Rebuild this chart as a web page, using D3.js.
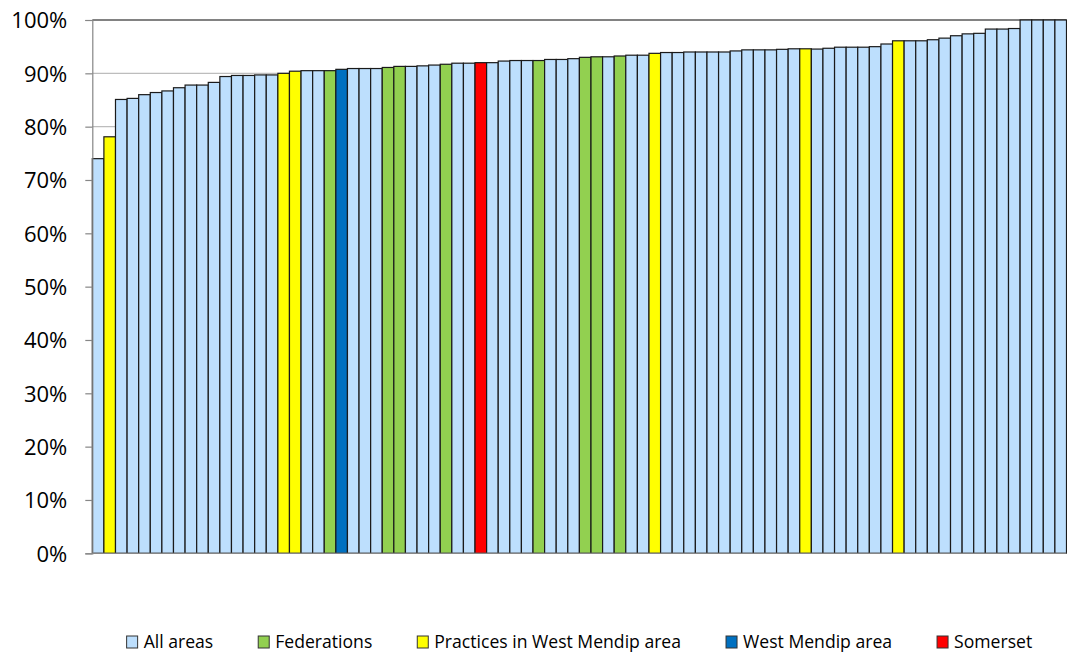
<!DOCTYPE html>
<html>
<head>
<meta charset="utf-8">
<script src="https://cdn.jsdelivr.net/npm/d3@7"></script>
<style>
  body { margin: 0; background: #fff; }
  svg text { font-family: "Open Sans", "Noto Sans", sans-serif; fill: #000; }
</style>
</head>
<body>
<div id="chart"></div>
<script>
const width = 1067
const height = 657

// bar values (%), sorted as in the chart
const values = [
  74.0, 78.1, 85.1, 85.3, 86.0, 86.4, 86.7, 87.3, 87.8, 87.8,
  88.3, 89.4, 89.6, 89.6, 89.7, 89.7, 90.0, 90.4, 90.5, 90.5,
  90.5, 90.75, 90.9, 90.9, 90.9, 91.1, 91.3, 91.3, 91.4, 91.55,
  91.7, 91.9, 91.9, 92.0, 92.0, 92.3, 92.4, 92.4, 92.4, 92.6,
  92.6, 92.75, 93.0, 93.1, 93.1, 93.25, 93.4, 93.4, 93.75, 93.9,
  93.9, 94.0, 94.0, 94.0, 94.0, 94.2, 94.4, 94.4, 94.4, 94.5,
  94.6, 94.6, 94.55, 94.7, 94.9, 94.9, 94.9, 95.0, 95.5, 96.1,
  96.1, 96.1, 96.3, 96.6, 97.05, 97.4, 97.5, 98.3, 98.3, 98.4,
  100, 100, 100, 100
]

// group of each bar: A = All areas, F = Federations, P = Practices in West Mendip area,
// W = West Mendip area, S = Somerset
const groups = [
  "A","P","A","A","A","A","A","A","A","A",
  "A","A","A","A","A","A","P","P","A","A",
  "F","W","A","A","A","F","F","A","A","A",
  "F","A","A","S","A","A","A","A","F","A",
  "A","A","F","F","A","F","A","A","P","A",
  "A","A","A","A","A","A","A","A","A","A",
  "A","P","A","A","A","A","A","A","A","P",
  "A","A","A","A","A","A","A","A","A","A",
  "A","A","A","A"
]

const legendKeys = ["A", "F", "P", "W", "S"]
const legendLabels = ["All areas", "Federations", "Practices in West Mendip area", "West Mendip area", "Somerset"]
const legendColors = ["#BDDFFD", "#92D050", "#FFFF00", "#0070C0", "#FF0000"]

const yTicks = [0, 10, 20, 30, 40, 50, 60, 70, 80, 90, 100]

const plot = { left: 92.3, right: 1066.5, top: 20, bottom: 553.3 }

const svg = d3.select("#chart").append("svg")
    .attr("width", width)
    .attr("height", height)

const color = d3.scaleOrdinal().domain(legendKeys).range(legendColors)

const x = d3.scaleBand()
    .domain(d3.range(values.length))
    .range([plot.left, plot.right])
    .paddingInner(0)
    .paddingOuter(0)

const y = d3.scaleLinear()
    .domain([0, 100])
    .range([plot.bottom, plot.top])

// gridlines
svg.append("g")
    .selectAll("line")
    .data(yTicks.filter(d => d > 0 && d < 100))
    .join("line")
    .attr("x1", plot.left)
    .attr("x2", plot.right)
    .attr("y1", d => y(d))
    .attr("y2", d => y(d))
    .attr("stroke", "#BDBDBD")
    .attr("stroke-width", 1.2)

// top border of plot area
svg.append("line")
    .attr("x1", plot.left)
    .attr("x2", plot.right)
    .attr("y1", y(100))
    .attr("y2", y(100))
    .attr("stroke", "#595959")
    .attr("stroke-width", 1.5)

// bars
const data = values.map((v, i) => ({ i: i, v: v, g: groups[i] }))

svg.append("g")
    .selectAll("rect")
    .data(data)
    .join("rect")
    .attr("x", d => x(d.i))
    .attr("y", d => y(d.v))
    .attr("width", x.bandwidth())
    .attr("height", d => y(0) - y(d.v))
    .attr("fill", d => color(d.g))
    .attr("stroke", "#1a1a1a")
    .attr("stroke-width", 1.2)

// y axis
const yAxis = d3.axisLeft(y)
    .tickValues(yTicks)
    .tickFormat(d => d + "%")
    .tickSize(7)
    .tickPadding(18)

const gy = svg.append("g")
    .attr("transform", `translate(${plot.left},0)`)
    .call(yAxis)

gy.select(".domain").attr("stroke", "#868686").attr("stroke-width", 1.2)
gy.selectAll(".tick line").attr("stroke", "#868686").attr("stroke-width", 1.2)
gy.selectAll(".tick text")
    .style("font-size", "22px")
    .attr("dy", "0.36em")

// bottom axis line
svg.append("line")
    .attr("x1", plot.left)
    .attr("x2", plot.right)
    .attr("y1", y(0))
    .attr("y2", y(0))
    .attr("stroke", "#868686")
    .attr("stroke-width", 1.2)

// legend
const legend = svg.append("g").attr("transform", "translate(0,642)")
const items = legend.selectAll("g")
    .data(legendKeys)
    .join("g")

items.append("rect")
    .attr("y", -6)
    .attr("width", 11)
    .attr("height", 12)
    .attr("fill", d => color(d))
    .attr("stroke", "#333")
    .attr("stroke-width", 1)

items.append("text")
    .attr("x", 17)
    .attr("dy", "0.35em")
    .style("font-size", "17.6px")
    .text((d, i) => legendLabels[i])

// place legend items side by side, centred under the plot
const gap = 45
let widths = []
items.each(function () { widths.push(this.getBBox().width) })
const total = d3.sum(widths) + gap * (widths.length - 1)
let cursor = (plot.left + plot.right) / 2 - total / 2
items.attr("transform", (d, i) => {
    const t = `translate(${cursor},0)`
    cursor += widths[i] + gap
    return t
})
</script>
</body>
</html>
